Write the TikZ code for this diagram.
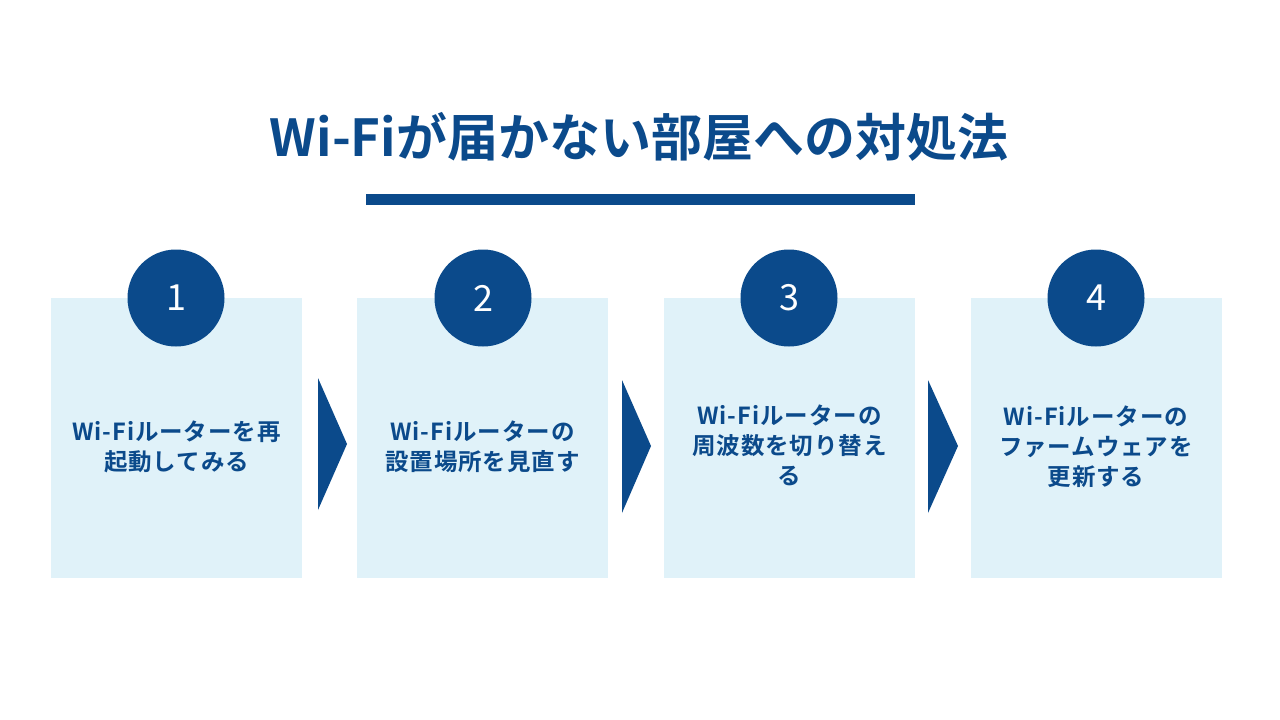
\documentclass[tikz,border=0pt]{standalone}
\usepackage{fontspec}
\setmainfont{Noto Sans CJK JP}[BoldFont={* Bold}]
\newfontfamily\jpb{Noto Sans CJK JP Bold}
\newfontfamily\jpbs{Noto Sans CJK JP Bold}[LetterSpace=4]
\newfontfamily\jpn{Noto Sans CJK JP}
\definecolor{navy}{HTML}{0B4A8B}
\definecolor{pale}{HTML}{E0F2F9}
\begin{document}
\begin{tikzpicture}[x=1pt,y=-1pt,
  box/.style={fill=pale,draw=none,minimum width=251pt,minimum height=280pt,inner sep=0pt},
  num/.style={circle,fill=navy,minimum size=97pt,inner sep=0pt,text=white,font=\jpn\fontsize{36}{40}\selectfont},
  lbl/.style={text=navy,align=center,font=\jpbs\fontsize{23.5}{30}\selectfont,inner sep=0pt},
  tri/.style={fill=navy,draw=none}]
\useasboundingbox (0,0) rectangle (1280,720);
\fill[white] (0,0) rectangle (1280,720);
\node[text=navy,inner sep=0pt] (title) at (639,137) {\resizebox{738pt}{!}{\jpb\fontsize{50}{56}\selectfont Wi-Fiが届かない部屋への対処法}};
\fill[navy] (366,194) rectangle (915,205);
\node[box] (b1) at (176.5,438) {};
\node[box] (b2) at (482.5,438) {};
\node[box] (b3) at (789.5,438) {};
\node[box] (b4) at (1096,438) {};
\node[num] (c1) at (176,298) {1};
\node[num] (c2) at (483,298) {2};
\node[num] (c3) at (789,298) {3};
\node[num] (c4) at (1096,298) {4};
\node[lbl] (t1) at (176.5,447) {Wi-Fiルーターを再\\起動してみる};
\node[lbl] (t2) at (482.5,447) {Wi-Fiルーターの\\設置場所を見直す};
\node[lbl] (t3) at (789.5,445) {Wi-Fiルーターの\\周波数を切り替え\\る};
\node[lbl] (t4) at (1096,447) {Wi-Fiルーターの\\ファームウェアを\\更新する};
\fill[tri] (318,378) -- (347,444) -- (318,510) -- cycle;
\fill[tri] (622,380) -- (651,446) -- (622,513) -- cycle;
\fill[tri] (928,380) -- (958,446) -- (928,513) -- cycle;
\end{tikzpicture}
\end{document}
